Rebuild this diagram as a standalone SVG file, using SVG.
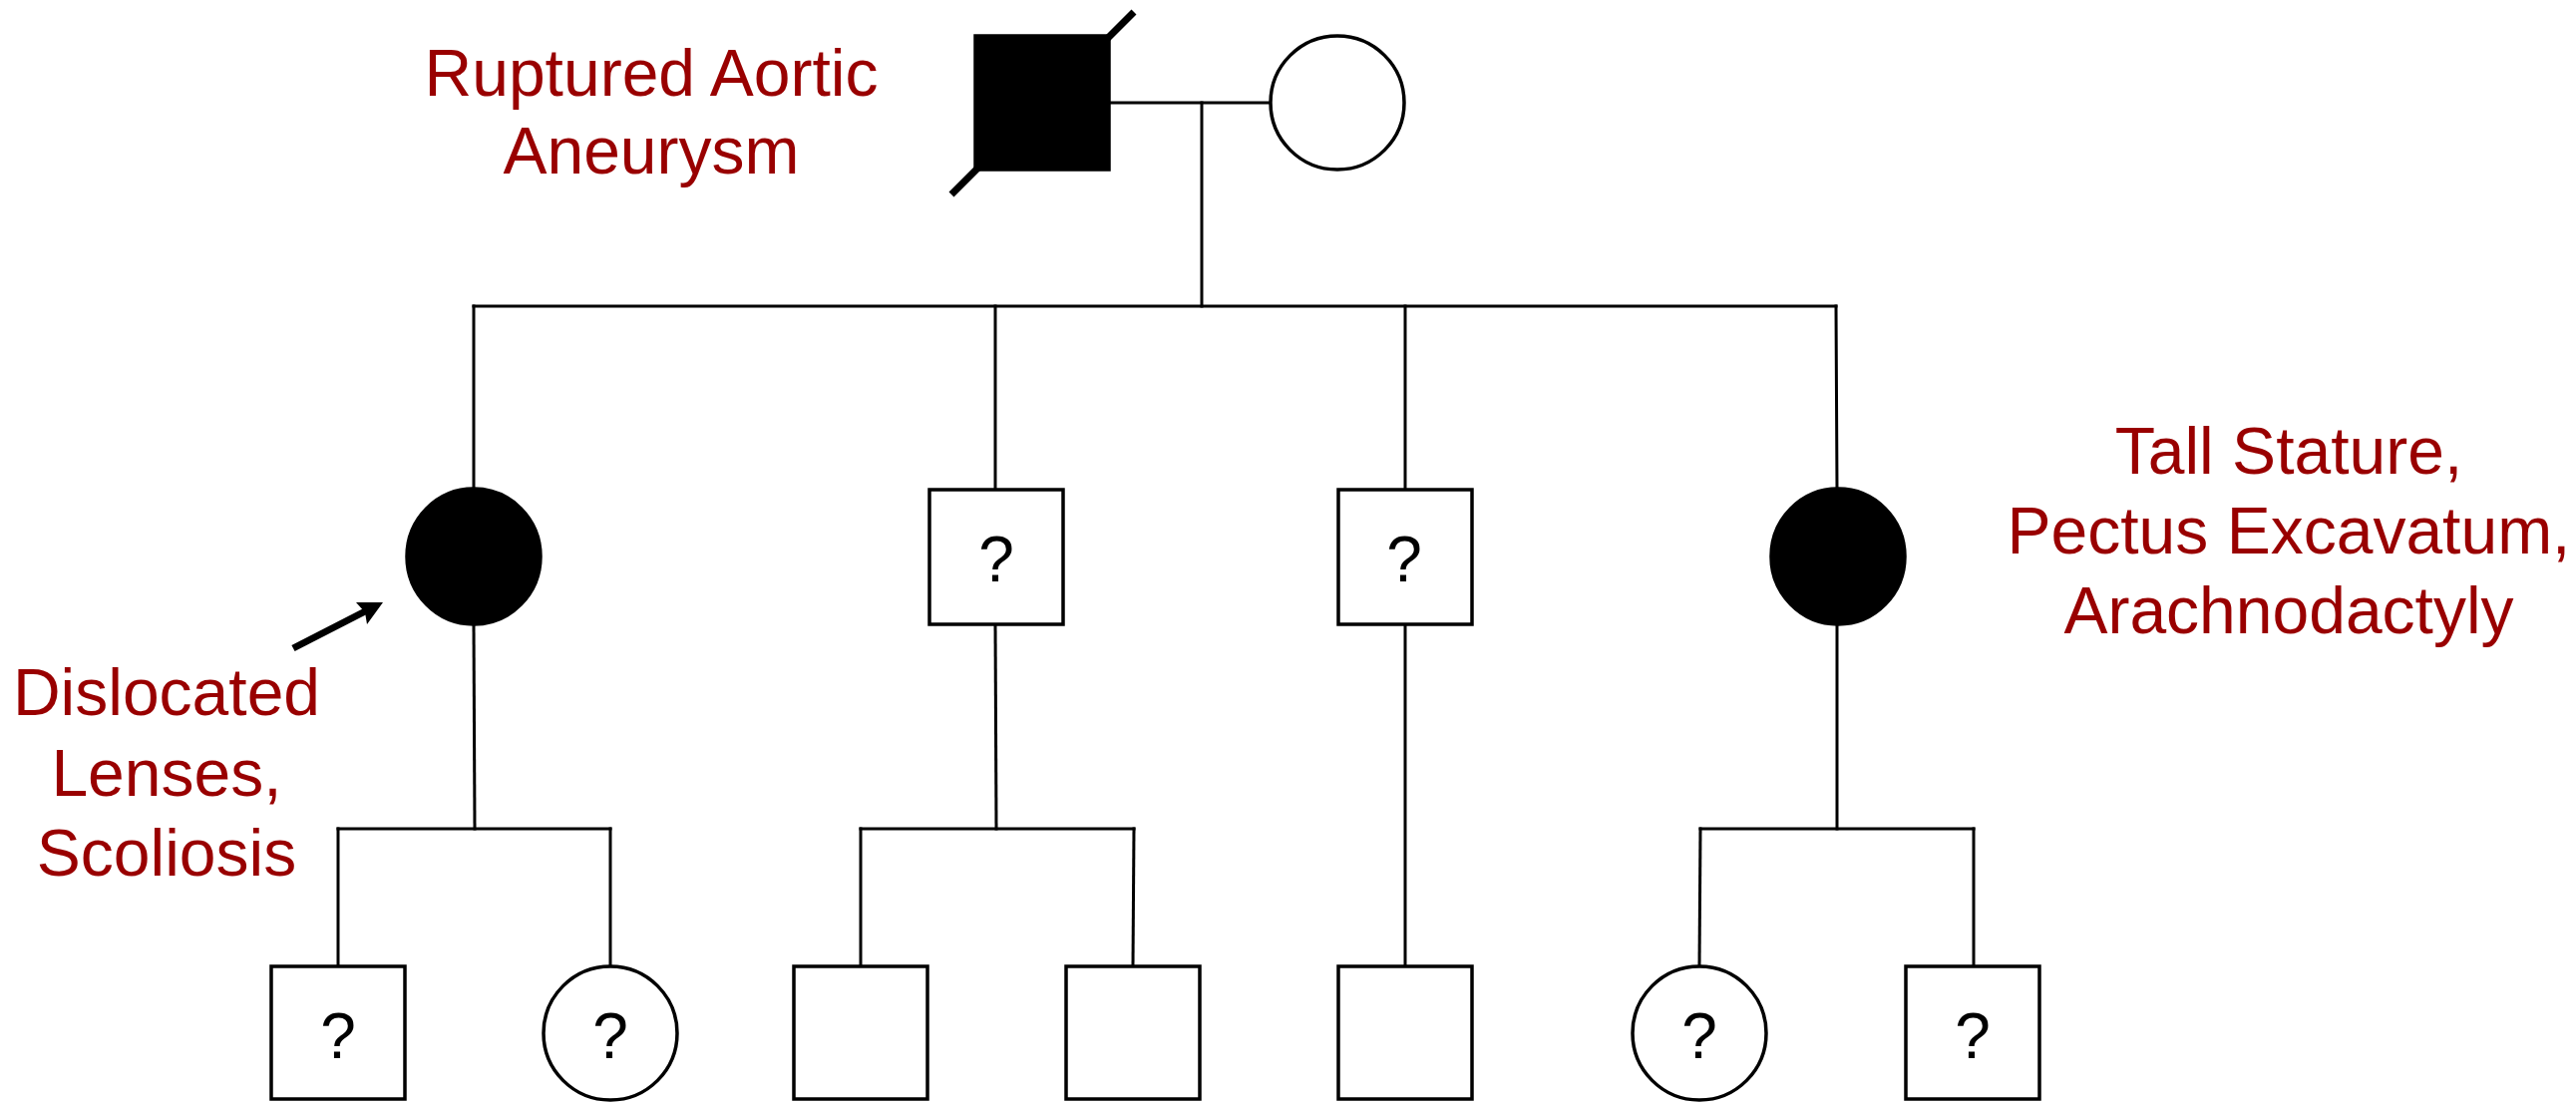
<svg xmlns="http://www.w3.org/2000/svg" width="2583" height="1108" viewBox="0 0 2583 1108">
<style>
.bg{fill:#ffffff}
.node{fill:#ffffff;stroke:#000;stroke-width:3.5}
.aff{fill:#000;stroke:#000;stroke-width:3.5}
.ln{stroke:#000;stroke-width:3;fill:none;stroke-linecap:square}
.q{font-family:"Liberation Sans",Arial,sans-serif;font-size:64px;fill:#000;text-anchor:middle}
.lbl{font-family:"Liberation Sans",Arial,sans-serif;font-size:66px;fill:#990000;text-anchor:middle}
</style>
<rect class="bg" x="0" y="0" width="2583" height="1108"/>
<g id="connectors">
  <line class="ln" x1="1112" y1="103" x2="1274" y2="103"/>
  <line class="ln" x1="1205" y1="103" x2="1205" y2="307"/>
  <line class="ln" x1="475" y1="307" x2="1841" y2="307"/>
  <line class="ln" x1="475" y1="307" x2="475" y2="490"/>
  <line class="ln" x1="998" y1="307" x2="998" y2="491"/>
  <line class="ln" x1="1409" y1="307" x2="1409" y2="491"/>
  <line class="ln" x1="1841" y1="307" x2="1842" y2="490"/>
  <line class="ln" x1="475" y1="627" x2="476" y2="831"/>
  <line class="ln" x1="998" y1="626" x2="999" y2="831"/>
  <line class="ln" x1="1409" y1="626" x2="1409" y2="969"/>
  <line class="ln" x1="1842" y1="627" x2="1842" y2="831"/>
  <line class="ln" x1="339" y1="831" x2="612" y2="831"/>
  <line class="ln" x1="339" y1="831" x2="339" y2="969"/>
  <line class="ln" x1="612" y1="831" x2="612" y2="969"/>
  <line class="ln" x1="863" y1="831" x2="1137" y2="831"/>
  <line class="ln" x1="863" y1="831" x2="863" y2="969"/>
  <line class="ln" x1="1137" y1="831" x2="1136" y2="969"/>
  <line class="ln" x1="1705" y1="831" x2="1979" y2="831"/>
  <line class="ln" x1="1705" y1="831" x2="1704" y2="969"/>
  <line class="ln" x1="1979" y1="831" x2="1979" y2="969"/>
</g>
<g id="father">
  <rect class="aff" x="978" y="36" width="134" height="134"/>
  <line x1="954" y1="195" x2="1137" y2="12" stroke="#000" stroke-width="7"/>
</g>
<g id="mother">
  <ellipse class="node" cx="1341" cy="103" rx="67" ry="67"/>
</g>
<g id="daughter1">
  <ellipse class="aff" cx="475" cy="558" rx="67" ry="68"/>
</g>
<g id="son1">
  <rect class="node" x="932" y="491" width="134" height="135"/>
  <text class="q" x="999" y="583">?</text>
</g>
<g id="son2">
  <rect class="node" x="1342" y="491" width="134" height="135"/>
  <text class="q" x="1408" y="583">?</text>
</g>
<g id="daughter2">
  <ellipse class="aff" cx="1843" cy="558" rx="67" ry="68"/>
</g>
<g id="g3-1">
  <rect class="node" x="272" y="969" width="134" height="133"/>
  <text class="q" x="339" y="1061">?</text>
</g>
<g id="g3-2">
  <ellipse class="node" cx="612" cy="1036" rx="67" ry="67"/>
  <text class="q" x="612" y="1061">?</text>
</g>
<g id="g3-3">
  <rect class="node" x="796" y="969" width="134" height="133"/>
</g>
<g id="g3-4">
  <rect class="node" x="1069" y="969" width="134" height="133"/>
</g>
<g id="g3-5">
  <rect class="node" x="1342" y="969" width="134" height="133"/>
</g>
<g id="g3-6">
  <ellipse class="node" cx="1704" cy="1036" rx="67" ry="67"/>
  <text class="q" x="1704" y="1061">?</text>
</g>
<g id="g3-7">
  <rect class="node" x="1911" y="969" width="134" height="133"/>
  <text class="q" x="1978" y="1061">?</text>
</g>
<g id="proband-arrow">
  <line x1="294" y1="650" x2="372" y2="610" stroke="#000" stroke-width="7"/>
  <polygon points="384,604 357,604 366,614 368,626" fill="#000"/>
</g>
<g id="labels">
  <text class="lbl" x="653" y="96">Ruptured Aortic</text>
  <text class="lbl" x="653" y="174">Aneurysm</text>
  <text class="lbl" x="167" y="717">Dislocated</text>
  <text class="lbl" x="167" y="798">Lenses,</text>
  <text class="lbl" x="167" y="878">Scoliosis</text>
  <text class="lbl" x="2295" y="475">Tall Stature,</text>
  <text class="lbl" x="2295" y="555">Pectus Excavatum,</text>
  <text class="lbl" x="2295" y="635">Arachnodactyly</text>
</g>
</svg>
